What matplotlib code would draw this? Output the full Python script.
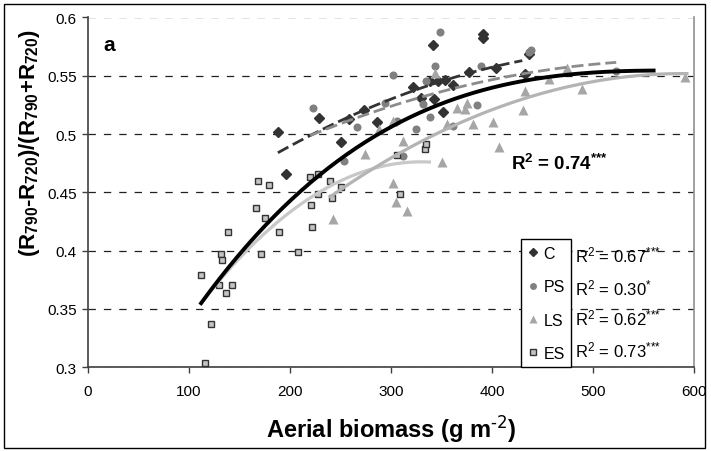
import numpy as np
import matplotlib
matplotlib.use('Agg')
import matplotlib.pyplot as plt
from matplotlib.lines import Line2D
from matplotlib.patches import Rectangle

plt.rcParams['font.family'] = ['Liberation Sans', 'DejaVu Sans']
plt.rcParams['mathtext.default'] = 'regular'

# ---- data ----
# C (diamonds)
c_x = [188.5, 196, 228.5, 250, 258, 273, 286, 322, 329.5, 339, 342, 343, 347,
       351.7, 353.5, 361, 377.5, 391.4, 391.4, 404, 433, 436.6]
c_y = [0.502, 0.466, 0.514, 0.4935, 0.513, 0.521, 0.510, 0.540, 0.531, 0.5455,
       0.5767, 0.530, 0.5453, 0.5187, 0.5467, 0.542, 0.553, 0.5858, 0.582,
       0.5565, 0.5515, 0.5687]
# PS (circles)
ps_x = [223, 253, 266, 294, 301.6, 305.6, 312, 325, 332, 334.6, 338.6, 343.6,
        348.5, 361.7, 385, 389, 437, 438.6, 523]
ps_y = [0.5224, 0.477, 0.506, 0.527, 0.551, 0.5115, 0.4815, 0.5044, 0.5258,
        0.5458, 0.5144, 0.5587, 0.5873, 0.507, 0.525, 0.5587, 0.570, 0.5724,
        0.5544]
# LS (triangles)
ls_x = [243, 274, 288, 302, 312, 302, 305, 316, 344, 350, 355, 365, 373, 375,
        381, 401, 407, 431, 433, 456, 474, 489, 591]
ls_y = [0.427, 0.483, 0.504, 0.5115, 0.494, 0.458, 0.4415, 0.434, 0.5525,
        0.476, 0.509, 0.522, 0.5215, 0.527, 0.509, 0.510, 0.489, 0.521, 0.537,
        0.547, 0.557, 0.539, 0.549]
# ES (squares)
es_x = [112, 116, 122, 130, 132, 133, 137, 139, 142.6, 166, 168, 171, 175,
        179.5, 189, 208, 220, 221, 222, 228, 228, 240, 242, 250, 306, 309,
        334, 335]
es_y = [0.379, 0.304, 0.337, 0.371, 0.3975, 0.392, 0.364, 0.416, 0.371, 0.437,
        0.460, 0.3975, 0.428, 0.456, 0.416, 0.399, 0.4635, 0.439, 0.420,
        0.4658, 0.449, 0.460, 0.445, 0.455, 0.482, 0.449, 0.487, 0.4915]

# trendline coefficients (highest power first) and x ranges
c_fit = [-6.48e-7, 7.27e-4, 0.37022]
c_rng = [188, 430]
ps_fit = [-4.79e-7, 5.629e-4, 0.39812]
ps_rng = [220, 523]
ls_fit = [-8.633e-7, 1.018e-3, 0.2518]
ls_rng = [240, 593]
es_fit = [-2.55e-6, 1.683e-3, 0.1985]
es_rng = [112, 338]
# overall fit: cubic in t = (x - 112) / 100
all_fit = [0.0015235, -0.023479, 0.11914, 0.355]
all_rng = [112, 560]

r2_labels = ['R$^2$ = 0.67$^{{*}{*}{*}}$', 'R$^2$ = 0.30$^{{*}}$',
             'R$^2$ = 0.62$^{{*}{*}{*}}$', 'R$^2$ = 0.73$^{{*}{*}{*}}$']
groups = ['C', 'PS', 'LS', 'ES']

W, H = 711, 452
fig = plt.figure(figsize=(W / 100, H / 100), dpi=100)
ax = fig.add_axes([88 / W, 1 - 368.3 / H, (694 - 88) / W, (368.3 - 18.5) / H])

# markers
ax.plot(c_x, c_y, 'D', color='#333333', ms=5, mec='#333333', zorder=3)
ax.plot(ps_x, ps_y, 'o', color='#808080', ms=5.8, mec='none', zorder=3)
ax.plot(ls_x, ls_y, '^', color='#a6a6a6', ms=7, mec='none', zorder=3)
ax.plot(es_x, es_y, 's', mfc='#c4c4c4', mec='#333333', mew=1, ms=4.6, zorder=3)

# trendlines
xx = np.linspace(*c_rng, 100)
ax.plot(xx, np.polyval(c_fit, xx), color='#333333', lw=2, dashes=(4.3, 1.8), zorder=4)
xx = np.linspace(*ps_rng, 100)
ax.plot(xx, np.polyval(ps_fit, xx), color='#8c8c8c', lw=2, dashes=(4.3, 1.8), zorder=4)
xx = np.linspace(*es_rng, 100)
ax.plot(xx, np.polyval(es_fit, xx), color='#c8c8c8', lw=2.3, zorder=4)
xx = np.linspace(*ls_rng, 100)
ax.plot(xx, np.polyval(ls_fit, xx), color='#b4b4b4', lw=2.3, zorder=4)
xx = np.linspace(*all_rng, 150)
ax.plot(xx, np.polyval(all_fit, (xx - 112) / 100), color='black', lw=2.8, zorder=5)

ax.set_xlim(0, 600)
ax.set_ylim(0.3, 0.6)
ax.set_xticks(np.arange(0, 601, 100))
ax.set_yticks([0.3, 0.35, 0.4, 0.45, 0.5, 0.55, 0.6])
ax.set_yticklabels(['0.3', '0.35', '0.4', '0.45', '0.5', '0.55', '0.6'])
ax.tick_params(axis='both', direction='out', length=4, width=1, color='#404040',
               labelsize=11, pad=4)
ax.tick_params(axis='x', pad=8)
ax.yaxis.grid(True, color='#202020', lw=0.9, dashes=(5.9, 6.4))
ax.set_axisbelow(True)
for s in ['left', 'bottom']:
    ax.spines[s].set_color('#404040')
    ax.spines[s].set_linewidth(1.2)
ax.spines['top'].set_visible(False)
ax.spines['right'].set_color('#909090')
ax.spines['right'].set_linewidth(1.2)

# legend
handles = [Line2D([], [], ls='none', marker='D', color='#333333', ms=4),
           Line2D([], [], ls='none', marker='o', color='#808080', mec='none', ms=5),
           Line2D([], [], ls='none', marker='^', color='#a6a6a6', mec='none', ms=6),
           Line2D([], [], ls='none', marker='s', mfc='#c4c4c4', mec='#333333', mew=1, ms=4)]
leg = ax.legend(handles, groups, loc='lower left', bbox_to_anchor=(521 / W, 1 - 368.3 / H),
                bbox_transform=fig.transFigure, fontsize=11.5, frameon=True,
                fancybox=False, edgecolor='black', framealpha=1, borderaxespad=0,
                borderpad=0.4, handlelength=0.7, handletextpad=0.3, labelspacing=1.15)
leg.get_frame().set_linewidth(1)
leg.set_zorder(6)

for lab, yp in zip(r2_labels, [255, 288, 318, 350]):
    fig.text(575 / W, 1 - yp / H, lab, fontsize=12, va='center', ha='left')

fig.text(511 / W, 1 - 170 / H, 'R$^2$ = 0.74$^{{*}{*}{*}}$', fontsize=13.5,
         fontweight='bold', va='baseline', ha='left')
fig.text(103 / W, 1 - 51 / H, 'a', fontsize=15, fontweight='bold', va='baseline')

fig.text(391 / W, 1 - 438 / H, r'Aerial biomass (g m$^{\text{-2}}$)', fontsize=17,
         fontweight='bold', ha='center', va='baseline')
fig.text(30 / W, 1 - 143 / H, '(R$_{790}$-R$_{720}$)/(R$_{790}$+R$_{720}$)',
         fontsize=16, fontweight='bold', rotation=90, ha='center', va='center')

fig.patches.append(Rectangle((4 / W, 3 / H), (705 - 4) / W, (449 - 5) / H,
                             transform=fig.transFigure, fill=False, lw=1,
                             edgecolor='black'))

fig.savefig('out.png', dpi=100)
